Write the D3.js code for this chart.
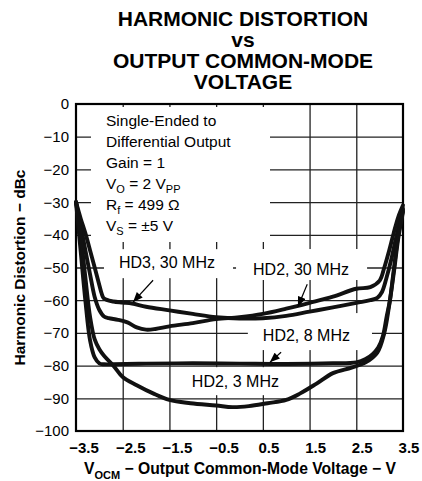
<!DOCTYPE html>
<html><head><meta charset="utf-8">
<script src="https://cdn.jsdelivr.net/npm/d3@7"></script>
<style>
html,body{margin:0;padding:0;background:#fff;}
svg{display:block;font-family:"Liberation Sans",Arial,Helvetica,sans-serif;}
</style></head>
<body>
<svg id="chart" width="422" height="481"></svg>
<script>
// ---------- data ----------
const titleLines = ["HARMONIC DISTORTION", "vs", "OUTPUT COMMON-MODE", "VOLTAGE"];
const xTicks = [-3.5, -2.5, -1.5, -0.5, 0.5, 1.5, 2.5, 3.5];
const yTicks = [0, -10, -20, -30, -40, -50, -60, -70, -80, -90, -100];

const hd3_30_x = [-3.5,-3.4,-3.3,-3.2,-3.1,-3.0,-2.95,-2.9,-2.7,-2.5,-2.3,-2.0,-1.5,-1.0,-0.5,0.0,0.5,1.0,1.5,2.0,2.5,2.8,2.95,3.05,3.15,3.25,3.35,3.45,3.5];
const hd3_30_y = [-30,-35,-39.5,-44.7,-50,-55.4,-58,-59.5,-60.4,-60.7,-61,-62,-63.1,-64.2,-65.2,-65.6,-65.5,-64.8,-63.5,-62.2,-60.8,-60,-59.3,-57.5,-53,-47.5,-41,-35,-32];

const hd2_30_x = [-3.5,-3.4,-3.3,-3.2,-3.1,-3.0,-2.9,-2.8,-2.6,-2.4,-2.2,-2.0,-1.8,-1.5,-1.0,-0.5,0.0,0.5,1.0,1.5,2.0,2.5,2.8,3.0,3.1,3.2,3.3,3.4,3.5];
const hd2_30_y = [-30,-37,-44.7,-52,-59,-63,-65,-65.5,-66,-66.8,-68.3,-69,-68.8,-68,-67,-65.8,-65.2,-64.2,-62.6,-60.8,-58.9,-56.5,-56,-54,-50,-45,-39.5,-34.5,-31];

const hd2_8_x = [-3.5,-3.4,-3.3,-3.2,-3.1,-3.0,-2.9,-2.7,-2.0,-1.0,0.0,1.0,2.0,2.5,2.7,2.85,2.97,3.07,3.15,3.22,3.3,3.4,3.5];
const hd2_8_y = [-30,-45,-60,-72.2,-77.5,-79.3,-79.6,-79.6,-79.4,-79.3,-79.4,-79.5,-79.3,-79,-78,-76.5,-74.5,-71,-65,-60,-51,-40,-32.5];

const hd2_3_x = [-3.5,-3.4,-3.3,-3.2,-3.1,-3.0,-2.9,-2.7,-2.5,-2.2,-1.85,-1.5,-1.05,-0.5,-0.15,0.2,0.6,1.0,1.3,1.65,2.0,2.4,2.7,2.95,3.1,3.2,3.3,3.4,3.5];
const hd2_3_y = [-30,-40,-53,-65,-72,-75,-77,-80,-83.5,-86,-88.5,-90.5,-91.5,-92.2,-92.7,-92.4,-91.5,-90.5,-88.5,-85.5,-82.3,-80.6,-79,-76,-70,-62,-52,-41,-33];

const series = [
  {name: "HD3, 30 MHz", x: hd3_30_x, y: hd3_30_y},
  {name: "HD2, 30 MHz", x: hd2_30_x, y: hd2_30_y},
  {name: "HD2, 8 MHz",  x: hd2_8_x,  y: hd2_8_y},
  {name: "HD2, 3 MHz",  x: hd2_3_x,  y: hd2_3_y}
];

// curve labels: text start (x) and baseline (y) in data units
const labelNames = ["HD3, 30 MHz", "HD2, 30 MHz", "HD2, 8 MHz", "HD2, 3 MHz"];
const labelX = [-2.58, 0.29, 0.50, -1.02];
const labelY = [-50.2, -52.3, -72.5, -86.6];
// arrows from label to curve (data units)
const arrowFromX = [-1.85, 1.45, 0.89];
const arrowFromY = [-53.9, -55.1, -75.9];
const arrowToX   = [-2.28, 1.25, 0.65];
const arrowToY   = [-60.6, -62.0, -79.0];

// white masks behind labels: padding [left, right, above baseline, below baseline] in px
const labelPad = [[15, 18, 19, 10], [17, 18, 26, 5], [15, 22, 28, 9], [8, 6, 20, 8]];

// ---------- layout ----------
const svg = d3.select("#chart");
const L = 76, T = 104, R = 403, B = 431;
const x = d3.scaleLinear().domain([-3.5, 3.5]).range([L, R]);
const y = d3.scaleLinear().domain([-100, 0]).range([B, T]);
const minus = s => String(s).replace("-", "\u2212");

// title
svg.append("g").selectAll("text").data(titleLines).join("text")
  .attr("x", 243).attr("y", (d, i) => 26 + i * 21)
  .attr("text-anchor", "middle").attr("font-weight", "bold")
  .attr("font-size", "21px").text(d => d);

// grid via axes
const gx = svg.append("g").attr("transform", `translate(0,${B})`)
  .call(d3.axisBottom(x).tickValues(xTicks.slice(1, -1)).tickSize(-(B - T)).tickFormat(""));
const gy = svg.append("g").attr("transform", `translate(${L},0)`)
  .call(d3.axisLeft(y).tickValues(yTicks.slice(1, -1)).tickSize(-(R - L)).tickFormat(""));
[gx, gy].forEach(g => {
  g.select(".domain").remove();
  g.selectAll("line").attr("stroke", "#222").attr("stroke-width", 1.3);
});

// white boxes that hide the grid behind texts
const boxes = svg.append("g");
boxes.append("rect").attr("x", 91).attr("y", 107).attr("width", 270 - 91).attr("height", 242 - 107).attr("fill", "#fff");

// tick labels
svg.append("g").selectAll("text").data(yTicks).join("text")
  .attr("x", L - 7).attr("y", d => y(d)).attr("dy", "0.36em")
  .attr("text-anchor", "end").attr("font-size", "15px").text(d => minus(d));
svg.append("g").selectAll("text").data(xTicks).join("text")
  .attr("x", d => x(d) + (d < 0 ? 8 : 6)).attr("y", B + 22)
  .attr("text-anchor", "middle").attr("font-size", "15px").attr("font-weight", "bold")
  .text(d => minus(d.toFixed(1)));

// axis titles
const xt = svg.append("text").attr("x", 240).attr("y", 474).attr("text-anchor", "middle")
  .attr("font-weight", "bold").attr("font-size", "15.7px");
xt.append("tspan").text("V");
xt.append("tspan").attr("font-size", "11px").attr("dy", 5).text("OCM");
xt.append("tspan").attr("dy", -5).text(" \u2212 Output Common-Mode Voltage \u2212 V");

svg.append("text").attr("transform", `translate(25,${(T + B) / 2}) rotate(-90)`)
  .attr("text-anchor", "middle").attr("font-weight", "bold").attr("font-size", "15.5px")
  .text("Harmonic Distortion \u2212 dBc");

// conditions text
const cond = svg.append("g").attr("font-size", "15.5px");
const cx = 106;
cond.append("text").attr("x", cx).attr("y", 126).text("Single-Ended to");
cond.append("text").attr("x", cx).attr("y", 147).text("Differential Output");
cond.append("text").attr("x", cx).attr("y", 168).text("Gain = 1");
let t = cond.append("text").attr("x", cx).attr("y", 189);
t.append("tspan").text("V");
t.append("tspan").attr("font-size", "11px").attr("dy", 3.5).text("O");
t.append("tspan").attr("dy", -3.5).text(" = 2 V");
t.append("tspan").attr("font-size", "11px").attr("dy", 3.5).text("PP");
t = cond.append("text").attr("x", cx).attr("y", 210);
t.append("tspan").text("R");
t.append("tspan").attr("font-size", "11px").attr("dy", 3.5).text("f");
t.append("tspan").attr("dy", -3.5).text(" = 499 \u03A9");
t = cond.append("text").attr("x", cx).attr("y", 231);
t.append("tspan").text("V");
t.append("tspan").attr("font-size", "11px").attr("dy", 3.5).text("S");
t.append("tspan").attr("dy", -3.5).text(" = \u00B15 V");

// curve labels with white boxes
const lab = svg.append("g").attr("font-size", "16px");
labelNames.forEach((n, i) => {
  const bx = x(labelX[i]), by = y(labelY[i]);
  const tx = lab.append("text").attr("x", bx).attr("y", by).text(n);
  const w = tx.node().getComputedTextLength();
  const p = labelPad[i];
  boxes.append("rect").attr("x", bx - p[0]).attr("y", by - p[2])
    .attr("width", w + p[0] + p[1]).attr("height", p[2] + p[3]).attr("fill", "#fff");
});

// plot frame
svg.append("rect").attr("x", L).attr("y", T).attr("width", R - L).attr("height", B - T)
  .attr("fill", "none").attr("stroke", "#000").attr("stroke-width", 2.2);

// curves
const line = d3.line().x(d => x(d[0])).y(d => y(d[1])).curve(d3.curveCatmullRom.alpha(0.5));
svg.append("g").selectAll("path").data(series).join("path")
  .attr("d", s => line(s.x.map((v, i) => [v, s.y[i]])))
  .attr("fill", "none").attr("stroke", "#111").attr("stroke-width", 3.9)
  .attr("stroke-linejoin", "round").attr("stroke-linecap", "round");

// arrows
svg.append("defs").append("marker").attr("id", "ah")
  .attr("viewBox", "0 0 10 8").attr("refX", 10).attr("refY", 4)
  .attr("markerWidth", 11).attr("markerHeight", 8).attr("markerUnits", "userSpaceOnUse")
  .attr("orient", "auto").append("path").attr("d", "M0,0L10,4L0,8Z").attr("fill", "#000");
svg.append("g").selectAll("line").data(arrowFromX).join("line")
  .attr("x1", (d, i) => x(arrowFromX[i])).attr("y1", (d, i) => y(arrowFromY[i]))
  .attr("x2", (d, i) => x(arrowToX[i])).attr("y2", (d, i) => y(arrowToY[i]))
  .attr("stroke", "#000").attr("stroke-width", 1.2).attr("marker-end", "url(#ah)");
</script>
</body></html>
